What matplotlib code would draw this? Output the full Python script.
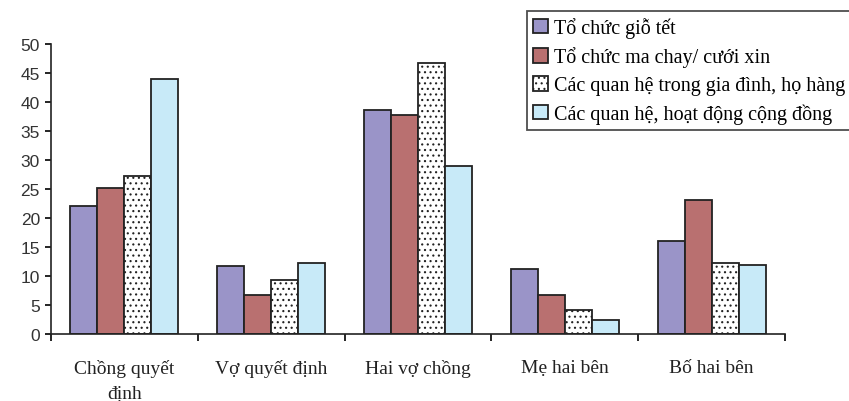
import numpy as np
import matplotlib as mpl
mpl.use('Agg')
import matplotlib.pyplot as plt

plt.rcParams['hatch.linewidth'] = 0.8

categories = ["Chồng quyết\nđịnh", "Vợ quyết định", "Hai vợ chồng", "Mẹ hai bên", "Bố hai bên"]
series_names = ["Tổ chức giỗ tết", "Tổ chức ma chay/ cưới xin",
                "Các quan hệ trong gia đình, họ hàng", "Các quan hệ, hoạt động cộng đồng"]
gio_tet = [22.0, 11.7, 38.7, 11.2, 16.0]
ma_chay = [25.2, 6.7, 37.8, 6.7, 23.1]
gia_dinh = [27.3, 9.3, 46.7, 4.1, 12.2]
cong_dong = [44.0, 12.2, 28.9, 2.4, 11.9]

colors = ["#9A94C8", "#B97070", "white", "#C8EAF8"]
hatches = [None, None, "...", None]

fig = plt.figure(figsize=(8.49, 4.02), dpi=100)
ax = fig.add_axes([51/849, 1-335/402, (785-51)/849, (335-45)/402])

x = np.arange(len(categories))
w = 0.184
handles = []
for i, vals in enumerate([gio_tet, ma_chay, gia_dinh, cong_dong]):
    b = ax.bar(x + (i - 1.5) * w, vals, w, color=colors[i], edgecolor="#222222",
               linewidth=1.3, hatch=hatches[i], label=series_names[i])
    handles.append(b)

ax.set_xlim(-0.5, len(categories) - 0.5)
ax.set_ylim(0, 50)
ax.set_yticks(range(0, 51, 5))
ax.set_xticks(np.arange(-0.5, len(categories), 1.0))
ax.set_xticklabels([])
ax.tick_params(axis='x', direction='out', length=5, width=1.2)
ax.tick_params(axis='y', direction='out', length=4, width=1.2, labelsize=12.5,
               labelcolor="#333333", pad=4)
for t in ax.get_yticklabels():
    t.set_fontfamily("Liberation Sans")
for s in ["top", "right"]:
    ax.spines[s].set_visible(False)
for s in ["left", "bottom"]:
    ax.spines[s].set_linewidth(1.2)
    ax.spines[s].set_color("#222222")

for i, c in enumerate(categories):
    ax.text(i, -4.3, c, ha="center", va="top", fontsize=14, family="Liberation Serif",
            color="#222222", linespacing=1.65, transform=ax.transData)

leg = fig.legend(handles=handles, loc="upper left", bbox_to_anchor=(527/849, 1-12/402),
                 prop={"family": "Liberation Serif", "size": 14.5}, frameon=True,
                 fancybox=False, edgecolor="#222222", handlelength=0.75, handleheight=0.75,
                 handletextpad=0.3, labelspacing=0.42, borderpad=0.3, borderaxespad=0)
leg.get_frame().set_linewidth(1.3)

fig.savefig("out.png", dpi=100)
